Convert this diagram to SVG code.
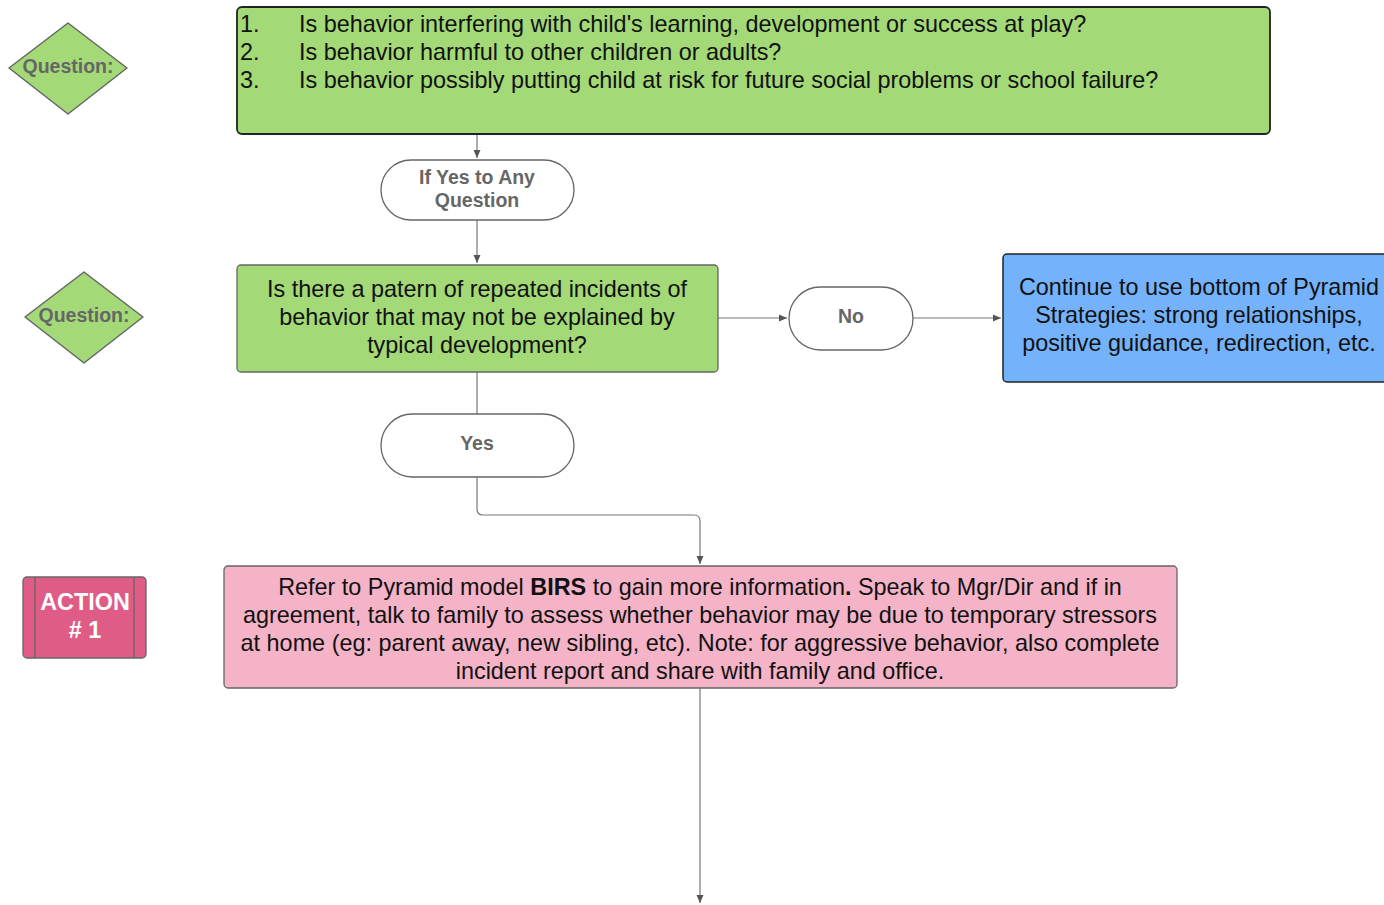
<svg xmlns="http://www.w3.org/2000/svg" width="1384" height="905" viewBox="0 0 1384 905">
<style>
.t{font-family:"Liberation Sans",Arial,sans-serif;fill:#111;font-size:23.4px}
.g{font-family:"Liberation Sans",Arial,sans-serif;fill:#666;font-weight:bold;font-size:19.5px}
.pill{fill:#fff;stroke:#666;stroke-width:1.3}
.c{fill:none;stroke:#777;stroke-width:1.2}
.dia{fill:#a3d977;stroke:#666;stroke-width:1.5;stroke-linejoin:round}
</style>
<defs>
<marker id="a" markerWidth="10" markerHeight="10" refX="9" refY="5" orient="auto" markerUnits="userSpaceOnUse"><path d="M1,1.5 L9,5 L1,8.5 Z" fill="#555"/></marker>
</defs>
<rect width="1384" height="905" fill="#fff"/>
<g id="connectors">
<path class="c" d="M477,135 V158" marker-end="url(#a)"/>
<path class="c" d="M477,220 V263" marker-end="url(#a)"/>
<path class="c" d="M718,318 H787" marker-end="url(#a)"/>
<path class="c" d="M913,318 H1001" marker-end="url(#a)"/>
<path class="c" d="M477,372 V414"/>
<path class="c" d="M477,477 V509 Q477,515 483,515 H694 Q700,515 700,521 V564" marker-end="url(#a)"/>
<path class="c" d="M700,688 V903" marker-end="url(#a)"/>
</g>
<g id="q1">
<polygon class="dia" points="9,68 68,23 127,68 68,114"/>
<text class="g" x="68" y="73" text-anchor="middle">Question:</text>
</g>
<g id="top">
<rect x="237" y="7" width="1033" height="127" rx="5" fill="#a3d977" stroke="#222" stroke-width="1.8"/>
<text class="t" x="240" y="32">1.</text>
<text class="t" x="299" y="32">Is behavior interfering with child's learning, development or success at play?</text>
<text class="t" x="240" y="60">2.</text>
<text class="t" x="299" y="60">Is behavior harmful to other children or adults?</text>
<text class="t" x="240" y="88">3.</text>
<text class="t" x="299" y="88">Is behavior possibly putting child at risk for future social problems or school failure?</text>
</g>
<g id="ifyes">
<rect class="pill" x="381" y="160" width="193" height="60" rx="30"/>
<text class="g" x="477" y="184" text-anchor="middle">If Yes to Any</text>
<text class="g" x="477" y="207" text-anchor="middle">Question</text>
</g>
<g id="q2">
<polygon class="dia" points="25,317 84,272 143,317 84,363"/>
<text class="g" x="84" y="322" text-anchor="middle">Question:</text>
</g>
<g id="pattern">
<rect x="237" y="265" width="481" height="107" rx="4" fill="#a3d977" stroke="#666" stroke-width="1.3"/>
<text class="t" x="477" y="297" text-anchor="middle">Is there a patern of repeated incidents of</text>
<text class="t" x="477" y="325" text-anchor="middle">behavior that may not be explained by</text>
<text class="t" x="477" y="353" text-anchor="middle">typical development?</text>
</g>
<g id="no">
<rect class="pill" x="789" y="287" width="124" height="63" rx="31.5"/>
<text class="g" x="851" y="323" text-anchor="middle">No</text>
</g>
<g id="continue">
<rect x="1003" y="254" width="392" height="128" rx="4" fill="#75b2fc" stroke="#222" stroke-width="1.5"/>
<text class="t" x="1199" y="295" text-anchor="middle">Continue to use bottom of Pyramid</text>
<text class="t" x="1199" y="323" text-anchor="middle">Strategies: strong relationships,</text>
<text class="t" x="1199" y="351" text-anchor="middle">positive guidance, redirection, etc.</text>
</g>
<g id="yes">
<rect class="pill" x="381" y="414" width="193" height="63" rx="31.5"/>
<text class="g" x="477" y="450" text-anchor="middle">Yes</text>
</g>
<g id="action">
<rect x="23" y="577" width="123" height="81" rx="4" fill="#de5c85" stroke="#666" stroke-width="1.3"/>
<line x1="35" y1="577" x2="35" y2="658" stroke="#666" stroke-width="1.3"/>
<line x1="134" y1="577" x2="134" y2="658" stroke="#666" stroke-width="1.3"/>
<text x="85" y="610" text-anchor="middle" font-family="Liberation Sans,Arial,sans-serif" font-weight="bold" font-size="23.4" fill="#fff">ACTION</text>
<text x="85" y="638" text-anchor="middle" font-family="Liberation Sans,Arial,sans-serif" font-weight="bold" font-size="23.4" fill="#fff"># 1</text>
</g>
<g id="refer">
<rect x="224" y="566" width="953" height="122" rx="4" fill="#f4b3c6" stroke="#666" stroke-width="1.3"/>
<text class="t" x="700" y="595" text-anchor="middle">Refer to Pyramid model <tspan font-weight="bold">BIRS</tspan> to gain more information<tspan font-weight="bold">.</tspan> Speak to Mgr/Dir and if in</text>
<text class="t" x="700" y="623" text-anchor="middle">agreement, talk to family to assess whether behavior may be due to temporary stressors</text>
<text class="t" x="700" y="651" text-anchor="middle">at home (eg: parent away, new sibling, etc). Note: for aggressive behavior, also complete</text>
<text class="t" x="700" y="679" text-anchor="middle">incident report and share with family and office.</text>
</g>
</svg>
